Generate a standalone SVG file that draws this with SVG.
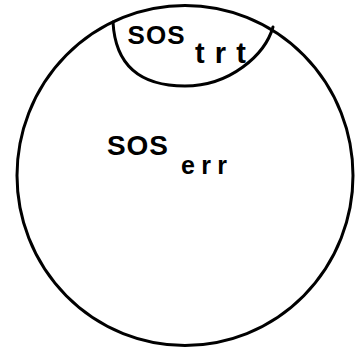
<svg xmlns="http://www.w3.org/2000/svg" width="355" height="348" viewBox="0 0 355 348">
<style>
.ln{fill:none;stroke:#000;stroke-width:3;stroke-linecap:round}
.t{font-family:"Liberation Sans",Arial,sans-serif;font-weight:bold;fill:#000}
</style>
<rect width="355" height="348" fill="#fff"/>
<g id="sos-err">
<ellipse class="ln" cx="185" cy="175.5" rx="168" ry="170"/>
<text class="t" x="107" y="155" font-size="28" textLength="61" lengthAdjust="spacing">SOS</text>
<text class="t" x="181" y="174" font-size="25" textLength="46" lengthAdjust="spacing">err</text>
</g>
<g id="sos-trt">
<path class="ln" d="M113,22 C115,60 135,86 185,86 C230,86 265,55 273,27"/>
<text class="t" x="127.5" y="43.5" font-size="26" textLength="57" lengthAdjust="spacing">SOS</text>
<text class="t" x="195" y="63" font-size="29" textLength="51" lengthAdjust="spacing">trt</text>
</g>
</svg>
